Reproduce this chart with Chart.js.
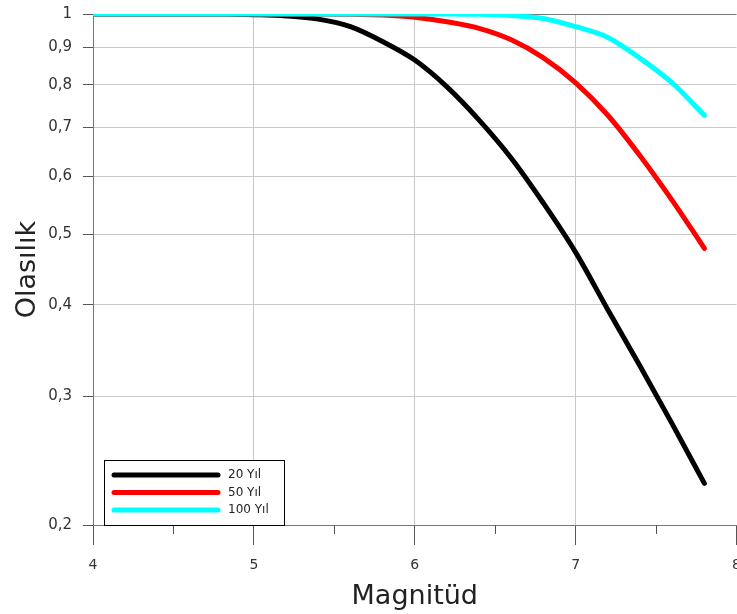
<!DOCTYPE html>
<html>
<head>
<meta charset="utf-8">
<script src="https://cdn.jsdelivr.net/npm/chart.js@4"></script>
<style>
  html, body { margin: 0; padding: 0; background: #fff; overflow: hidden; }
  #wrap { width: 737px; height: 614px; overflow: hidden; position: relative; }
  #olasilik { position: absolute; left: 0; top: -6px; }
</style>
</head>
<body>
<div id="wrap"><canvas id="olasilik" width="753" height="620"></canvas></div>
<script>
var magnitudes = [4.0, 4.2, 4.4, 4.6, 4.8, 5.0, 5.2, 5.4, 5.6, 5.8, 6.0, 6.2, 6.4, 6.6, 6.8, 7.0, 7.2, 7.4, 7.6, 7.8];
var yil20  = [1, 1, 1, 1, 1, 0.998, 0.994, 0.984, 0.961, 0.917, 0.865, 0.795, 0.716, 0.635, 0.551, 0.472, 0.394, 0.330, 0.275, 0.228];
var yil50  = [1, 1, 1, 1, 1, 1, 1, 1, 0.999, 0.997, 0.990, 0.976, 0.956, 0.922, 0.871, 0.805, 0.727, 0.640, 0.556, 0.478];
var yil100 = [1, 1, 1, 1, 1, 1, 1, 1, 1, 1, 1, 1, 0.999, 0.995, 0.986, 0.961, 0.929, 0.870, 0.805, 0.727];
var seriesLabels = ['20 Yıl', '50 Yıl', '100 Yıl'];
var yTicks = [0.2, 0.3, 0.4, 0.5, 0.6, 0.7, 0.8, 0.9, 1];
var xMinorTicks = [4.5, 5.5, 6.5, 7.5];

function toPoints(ys) {
    return magnitudes.map(function (m, i) { return { x: m, y: ys[i] }; });
}

// minor x ticks (shorter) and the legend box inside the plot
var extras = {
    id: 'extras',
    afterDraw: function (chart) {
        var ctx = chart.ctx, area = chart.chartArea, xs = chart.scales.x;
        ctx.save();
        ctx.strokeStyle = '#555';
        ctx.lineWidth = 1;
        xMinorTicks.forEach(function (v) {
            var px = Math.round(xs.getPixelForValue(v)) + 0.5;
            ctx.beginPath();
            ctx.moveTo(px, area.bottom);
            ctx.lineTo(px, area.bottom + 9);
            ctx.stroke();
        });

        var bx = area.left + 11, bw = 180, bh = 65, by = area.bottom - bh;
        ctx.fillStyle = '#fff';
        ctx.fillRect(bx, by, bw, bh);
        ctx.strokeStyle = '#000';
        ctx.strokeRect(bx + 0.5, by + 0.5, bw, bh);
        ctx.font = '12px "DejaVu Sans"';
        ctx.textBaseline = 'middle';
        chart.data.datasets.forEach(function (ds, i) {
            var ly = by + 15 + i * 17.5;
            ctx.strokeStyle = ds.borderColor;
            ctx.lineWidth = 5;
            ctx.lineCap = 'round';
            ctx.beginPath();
            ctx.moveTo(bx + 10, ly);
            ctx.lineTo(bx + 114, ly);
            ctx.stroke();
            ctx.fillStyle = '#222';
            ctx.fillText(ds.label, bx + 124, ly);
        });
        ctx.restore();
    }
};

var axisDark = '#777';
var gridLight = '#c8c8c8';

new Chart(document.getElementById('olasilik').getContext('2d'), {
    type: 'line',
    data: {
        datasets: [
            { label: seriesLabels[0], data: toPoints(yil20), borderColor: '#000000', order: 3 },
            { label: seriesLabels[1], data: toPoints(yil50), borderColor: '#ff0000', order: 2 },
            { label: seriesLabels[2], data: toPoints(yil100), borderColor: '#00ffff', order: 1 }
        ]
    },
    options: {
        responsive: false,
        animation: false,
        layout: { padding: 0 },
        elements: {
            line: { borderWidth: 5, cubicInterpolationMode: 'monotone', borderCapStyle: 'round', borderJoinStyle: 'round', fill: false },
            point: { radius: 0, hoverRadius: 0 }
        },
        plugins: {
            legend: { display: false },
            tooltip: { enabled: false }
        },
        scales: {
            x: {
                type: 'linear',
                min: 4,
                max: 8,
                ticks: {
                    stepSize: 1,
                    padding: 12,
                    color: '#333',
                    font: { family: 'DejaVu Sans', size: 14 },
                    maxRotation: 0
                },
                grid: {
                    tickLength: 20,
                    color: function (c) {
                        var v = c.tick && c.tick.value;
                        if (v === 4) return axisDark;
                        if (v === 8) return 'rgba(0,0,0,0)';
                        return gridLight;
                    },
                    tickColor: '#555'
                },
                border: { color: axisDark },
                title: {
                    display: true,
                    text: 'Magnitüd',
                    color: '#222',
                    font: { family: 'DejaVu Sans', size: 27 },
                    padding: { top: 0, bottom: 1 }
                },
                afterFit: function (s) { s.height = 89; }
            },
            y: {
                type: 'logarithmic',
                min: 0.2,
                max: 1,
                afterBuildTicks: function (s) {
                    s.ticks = yTicks.map(function (v) { return { value: v }; });
                },
                ticks: {
                    padding: 11,
                    color: '#333',
                    font: { family: 'DejaVu Sans', size: 15 },
                    callback: function (v) {
                        return v === 1 ? '1' : Number(v).toFixed(1).replace('.', ',');
                    }
                },
                grid: {
                    tickLength: 10,
                    color: function (c) {
                        var v = c.tick && c.tick.value;
                        return (v === 1 || v === 0.2) ? axisDark : gridLight;
                    },
                    tickColor: '#555'
                },
                border: { color: axisDark },
                title: {
                    display: true,
                    text: 'Olasılık',
                    color: '#222',
                    font: { family: 'DejaVu Sans', size: 27 },
                    padding: { top: 12, bottom: 0 }
                },
                afterFit: function (s) { s.width = 93; }
            }
        }
    },
    plugins: [extras]
});
</script>
</body>
</html>
